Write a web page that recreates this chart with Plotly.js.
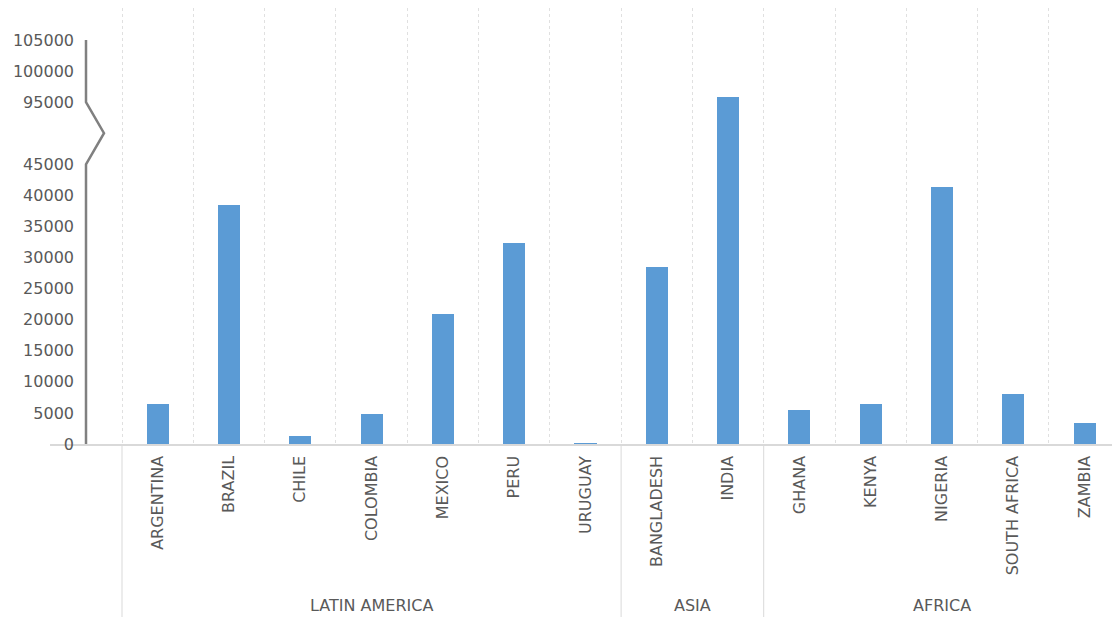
<!DOCTYPE html>
<html>
<head>
<meta charset="utf-8">
<script src="https://cdn.plot.ly/plotly-3.0.1.min.js"></script>
<style>
  html, body { margin: 0; padding: 0; background: #ffffff; }
  #chart { width: 1112px; height: 619px; }
</style>
</head>
<body>
<div id="chart"></div>
<script>
// Countries, their region and the value for each
const countries = ['ARGENTINA', 'BRAZIL', 'CHILE', 'COLOMBIA', 'MEXICO', 'PERU', 'URUGUAY',
                   'BANGLADESH', 'INDIA',
                   'GHANA', 'KENYA', 'NIGERIA', 'SOUTH AFRICA', 'ZAMBIA'];
const regions = ['LATIN AMERICA', 'LATIN AMERICA', 'LATIN AMERICA', 'LATIN AMERICA', 'LATIN AMERICA', 'LATIN AMERICA', 'LATIN AMERICA',
                 'ASIA', 'ASIA',
                 'AFRICA', 'AFRICA', 'AFRICA', 'AFRICA', 'AFRICA'];
const values = [6500, 38500, 1300, 4900, 20900, 32400, 200,
                28500, 95800,
                5400, 6500, 41300, 8100, 3300];

// Value axis ticks (real values) and the broken segment of the axis
const yTickValues = [0, 5000, 10000, 15000, 20000, 25000, 30000, 35000, 40000, 45000, 95000, 100000, 105000];
const breakLow = 45000;
const breakHigh = 95000;
const breakSpan = 10000;   // room the break takes up on the axis, in value units

function toAxis(v) {
  return v <= breakLow ? v : v - (breakHigh - breakLow - breakSpan);
}

const W = 1112, H = 619;
const plotTop = 8, plotBottom = 444;
const axisX = 86;            // pixel position of the value axis line
const zigX = 104;            // tip of the break zig-zag
const xDomainStart = 50;     // baseline starts here
const slot = 71.3;
const firstCenter = 157.65;

const px = p => p / W;
const pyPaper = p => (plotBottom - p) / (plotBottom - plotTop);

const yTop = toAxis(105000) + 5140;
const xLeft = (xDomainStart - firstCenter) / slot;
const xRight = xLeft + (W - xDomainStart) / slot;

// region groups
const groups = [];
regions.forEach((r, i) => {
  const g = groups[groups.length - 1];
  if (g && g.name === r) g.end = i;
  else groups.push({ name: r, start: i, end: i });
});

const textColor = '#595959';
const font = { family: 'DejaVu Sans, Open Sans, sans-serif', size: 16, color: textColor };

const trace = {
  type: 'bar',
  x: countries,
  y: values.map(toAxis),
  customdata: values,
  hovertemplate: '%{x}: %{customdata}<extra></extra>',
  width: 0.31,
  marker: { color: '#5b9bd5', line: { width: 0 } }
};

const shapes = [];
// value axis with break
shapes.push({
  type: 'path', xref: 'paper', yref: 'y',
  path: 'M ' + px(axisX) + ',' + toAxis(105000) +
        ' L ' + px(axisX) + ',' + toAxis(breakHigh) +
        ' L ' + px(zigX) + ',' + (toAxis(breakHigh) + toAxis(breakLow)) / 2 +
        ' L ' + px(axisX) + ',' + toAxis(breakLow) +
        ' L ' + px(axisX) + ',0',
  line: { color: '#808080', width: 2.5 }
});
// group dividers below the axis
groups.forEach(g => {
  shapes.push({
    type: 'line', xref: 'x', yref: 'paper',
    x0: g.start - 0.5, x1: g.start - 0.5,
    y0: 0, y1: pyPaper(617),
    line: { color: '#d9d9d9', width: 1 }
  });
});

const annotations = groups.map(g => ({
  xref: 'x', yref: 'paper',
  x: (g.start + g.end) / 2, y: pyPaper(605),
  text: g.name, showarrow: false,
  xanchor: 'center', yanchor: 'middle',
  font: font
}));

const layout = {
  width: W, height: H,
  margin: { l: 0, r: 0, t: plotTop, b: H - plotBottom },
  paper_bgcolor: '#ffffff',
  plot_bgcolor: '#ffffff',
  showlegend: false,
  bargap: 0,
  xaxis: {
    type: 'category',
    domain: [px(xDomainStart), 1],
    range: [xLeft, xRight],
    tickson: 'boundaries',
    showgrid: true,
    gridcolor: '#e0e0e0',
    griddash: 'dot',
    gridwidth: 1,
    showline: true,
    linecolor: '#d9d9d9',
    linewidth: 1.5,
    ticks: '',
    tickangle: -90,
    ticklabelstandoff: 4,
    tickfont: font,
    zeroline: false,
    fixedrange: true
  },
  yaxis: {
    anchor: 'free',
    position: px(axisX),
    range: [0, yTop],
    tickmode: 'array',
    tickvals: yTickValues.map(toAxis),
    ticktext: yTickValues.map(String),
    ticks: '',
    ticklabelstandoff: 12,
    tickfont: font,
    showgrid: false,
    showline: false,
    zeroline: false,
    fixedrange: true
  },
  shapes: shapes,
  annotations: annotations
};

Plotly.newPlot('chart', [trace], layout, { displayModeBar: false, staticPlot: true });
</script>
</body>
</html>
